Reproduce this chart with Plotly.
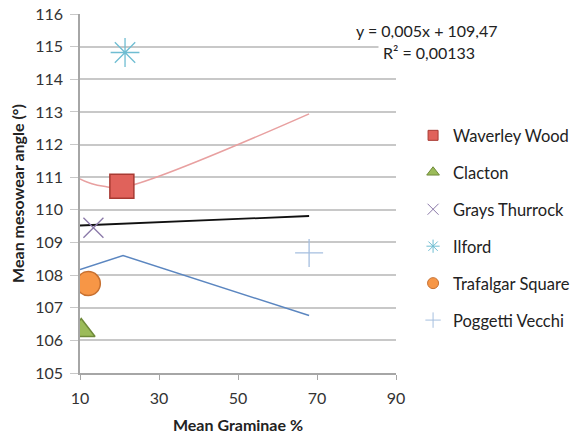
import plotly.graph_objects as go

# Sites (scatter points)
sites = ["Waverley Wood", "Clacton", "Grays Thurrock", "Ilford", "Trafalgar Square", "Poggetti Vecchi"]
graminae = [20.6, 10.3, 13.4, 21.4, 12.1, 68.0]
mesowear = [110.72, 106.3, 109.45, 114.82, 107.74, 108.68]

# Fitted / bound lines
lin_x = [10, 68]
lin_y = [109.52, 109.81]
upper_x = [10, 13, 16, 20.6, 68]
upper_y = [110.95, 110.8, 110.72, 110.68, 112.94]
lower_x = [10, 20.9, 68]
lower_y = [108.17, 108.6, 106.76]

equation_line1 = "y = 0,005x + 109,47"
equation_line2 = "R² = 0,00133"

styles = {
    "Waverley Wood": dict(symbol="square", size=24, color="#e0625b", line=dict(color="#a83a33", width=1.5)),
    "Clacton": dict(symbol="triangle-up", size=24, color="#9bbb59", line=dict(color="#6f8a3a", width=1.5)),
    "Grays Thurrock": dict(symbol="x-thin", size=20, color="#8a78a8", line=dict(color="#8a78a8", width=1.3)),
    "Ilford": dict(symbol="asterisk", size=24, color="#4bacc6", line=dict(color="#6fbdd2", width=1.3)),
    "Trafalgar Square": dict(symbol="circle", size=24, color="#f79646", line=dict(color="#c77030", width=1.5)),
    "Poggetti Vecchi": dict(symbol="cross-thin", size=20, color="#95b3d7", line=dict(color="#a5bfdf", width=1.3)),
}
legend_sizes = {"Waverley Wood": 10, "Clacton": 11, "Grays Thurrock": 11, "Ilford": 11,
                "Trafalgar Square": 11, "Poggetti Vecchi": 11}

fig = go.Figure()
fig.add_trace(go.Scatter(x=upper_x, y=upper_y, mode="lines", line=dict(color="#e8a0a0", width=1.5, shape="spline"), showlegend=False, hoverinfo="skip"))
fig.add_trace(go.Scatter(x=lower_x, y=lower_y, mode="lines", line=dict(color="#5b86c0", width=1.5), showlegend=False, hoverinfo="skip"))
fig.add_trace(go.Scatter(x=lin_x, y=lin_y, mode="lines", line=dict(color="#111111", width=1.8), showlegend=False, hoverinfo="skip"))

for name, gx, my in zip(sites, graminae, mesowear):
    fig.add_trace(go.Scatter(x=[gx], y=[my], mode="markers", name=name, legendgroup=name,
                             marker=styles[name], showlegend=False))
    m = dict(styles[name])
    m["size"] = legend_sizes[name]
    m["line"] = dict(m["line"], width=1)
    fig.add_trace(go.Scatter(x=[None], y=[None], mode="markers", name=name, legendgroup=name,
                             marker=m, showlegend=True))

fig.add_annotation(x=1.098, y=0.955, xref="paper", yref="paper", text=equation_line1, showarrow=False,
                   xanchor="center", yanchor="middle", bgcolor="white", borderpad=1,
                   font=dict(size=16, color="#222222"))
fig.add_annotation(x=1.104, y=0.894, xref="paper", yref="paper", text=equation_line2, showarrow=False,
                   xanchor="center", yanchor="middle", bgcolor="white", borderpad=4,
                   font=dict(size=16, color="#222222"))

font = "Lato, Open Sans, sans-serif"
fig.update_layout(
    width=576, height=435,
    margin=dict(l=80, r=180, t=14, b=62, autoexpand=False),
    plot_bgcolor="white", paper_bgcolor="white",
    font=dict(family=font, color="#222222"),
    legend=dict(x=1.054, y=0.71, xanchor="left", yanchor="top", itemsizing="trace", itemwidth=30,
                font=dict(size=16.5, color="#222222"), tracegroupgap=12.5),
    xaxis=dict(range=[10, 90], dtick=20, tick0=10, showgrid=False, zeroline=False, automargin=False,
               showline=True, linecolor="#a6a6a6", linewidth=1.5,
               ticks="outside", ticklen=5, tickcolor="#a6a6a6", ticklabelstandoff=5,
               ticklabeloverflow="allow",
               tickfont=dict(size=16, color="#333333"),
               title=dict(text="<b>Mean Graminae %</b>", font=dict(size=16, color="#222222"), standoff=14)),
    yaxis=dict(range=[105, 116], dtick=1, showgrid=True, gridcolor="#c8c8c8", gridwidth=1.5, zeroline=False,
               automargin=False, ticklabeloverflow="allow",
               showline=True, linecolor="#a6a6a6", linewidth=1.5,
               ticks="outside", ticklen=8, tickcolor="#c8c8c8", ticklabelstandoff=4,
               tickfont=dict(size=16, color="#333333"),
               title=dict(text="<b>Mean mesowear angle (°)</b>", font=dict(size=16, color="#222222"), standoff=7)),
)

fig.write_html("out.html", config={"displayModeBar": False},
               post_script="document.body.style.margin='0px';")
